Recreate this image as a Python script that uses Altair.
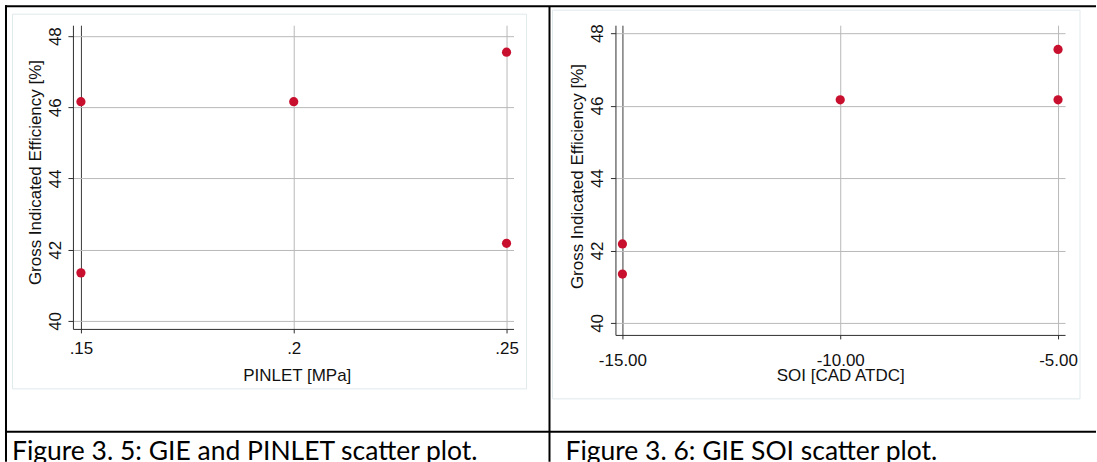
import altair as alt
import pandas as pd

# Five engine operating points: inlet pressure, start of injection and the
# gross indicated efficiency measured at each of them.
pinlet_mpa = [0.15, 0.15, 0.20, 0.25, 0.25]
gie_vs_pinlet = [46.16, 41.35, 46.16, 47.55, 42.18]
soi_cad_atdc = [-15.0, -15.0, -10.0, -5.0, -5.0]
gie_vs_soi = [42.18, 41.35, 46.16, 47.55, 46.16]

pinlet_ticks = [0.15, 0.2, 0.25]
pinlet_tick_labels = [".15", ".2", ".25"]
soi_ticks = [-15.0, -10.0, -5.0]
gie_ticks = [40, 42, 44, 46, 48]

y_title = "Gross Indicated Efficiency [%]"
pinlet_title = "PINLET [MPa]"
soi_title = "SOI [CAD ATDC]"
captions = ["Figure 3. 5: GIE and PINLET scatter plot.",
            "Figure 3. 6: GIE SOI scatter plot."]

FONT = "Liberation Sans"
AXIS_FONT_SIZE = 17
CAPTION_FONT = "Lato"
CAPTION_SIZE = 26.5
INK = "#111111"
AXIS_LINE = "#2e2e2e"
GRID = "#b9b9b9"
FIRST_GRID = "#3a3a3a"
DOT = "#c8102e"
FRAME = "#e0e9eb"

# Page layout (pixels)
PAGE_W, PAGE_H = 1097, 462
LEFT_ORIGIN = (73, 25)
LEFT_W, LEFT_H = 441, 304
GAP = 102
RIGHT_ORIGIN = (LEFT_ORIGIN[0] + LEFT_W + GAP, 25)
RIGHT_W, RIGHT_H = 450, 310

one_row = pd.DataFrame({"k": [0]})


def page_rule(origin, x1, y1, x2, y2, color="black", width=2):
    ox, oy = origin
    return alt.Chart(one_row).mark_rule(color=color, strokeWidth=width).encode(
        x=alt.value(x1 - ox), x2=alt.value(x2 - ox),
        y=alt.value(y1 - oy), y2=alt.value(y2 - oy))


def page_box(origin, x1, y1, x2, y2, color, opacity=1.0, width=1):
    ox, oy = origin
    return alt.Chart(one_row).mark_rect(
        fill="white", fillOpacity=0, stroke=color, strokeWidth=width,
        strokeOpacity=opacity).encode(
        x=alt.value(x1 - ox), x2=alt.value(x2 - ox),
        y=alt.value(y1 - oy), y2=alt.value(y2 - oy))


def page_text(origin, x, y, text, size):
    ox, oy = origin
    return alt.Chart(one_row).mark_text(
        text=text, font=CAPTION_FONT, fontSize=size, color="black",
        align="left", baseline="alphabetic").encode(
        x=alt.value(x - ox), y=alt.value(y - oy))


def y_axis(title_x, title_y, pad):
    return alt.Axis(
        values=gie_ticks, title=y_title, grid=True, gridColor=GRID, gridWidth=1,
        domainColor=AXIS_LINE, tickColor=AXIS_LINE, tickSize=5,
        labelAngle=270, labelAlign="center", labelBaseline="alphabetic",
        labelPadding=pad, labelFont=FONT, labelFontSize=AXIS_FONT_SIZE,
        labelColor=INK, labelFlush=False, labelOverlap=False,
        titleFont=FONT, titleFontSize=AXIS_FONT_SIZE, titleFontWeight="normal",
        titleColor=INK, titleAngle=270, titleAlign="center",
        titleBaseline="alphabetic", titleX=title_x, titleY=title_y)


def x_axis(values, title, first, pad, title_x, title_y, label_expr):
    return alt.Axis(
        values=values, title=title, grid=True,
        gridColor={"condition": {"test": f"datum.value === {first}",
                                 "value": FIRST_GRID},
                   "value": GRID},
        gridWidth=1, domainColor=AXIS_LINE, tickColor=AXIS_LINE, tickSize=4,
        labelAngle=0, labelPadding=pad, labelFont=FONT,
        labelFontSize=AXIS_FONT_SIZE, labelColor=INK, labelFlush=False,
        labelOverlap=False, labelExpr=label_expr,
        titleFont=FONT, titleFontSize=AXIS_FONT_SIZE, titleFontWeight="normal",
        titleColor=INK, titleBaseline="top", titleAlign="center",
        titleX=title_x, titleY=title_y)


# Tick text for the inlet pressure axis (".15", ".2", ".25")
pinlet_label_expr = "''"
for v, lab in reversed(list(zip(pinlet_ticks, pinlet_tick_labels))):
    pinlet_label_expr = f"datum.value === {v} ? '{lab}' : ({pinlet_label_expr})"

# Start of injection ticks with two decimals and a plain hyphen as minus sign
soi_label_expr = "replace(format(datum.value, '.2f'), '\u2212', '-')"

left_df = pd.DataFrame({"PINLET": pinlet_mpa, "GIE": gie_vs_pinlet})
right_df = pd.DataFrame({"SOI": soi_cad_atdc, "GIE": gie_vs_soi})

left_points = alt.Chart(left_df).mark_circle(size=85, color=DOT, opacity=1).encode(
    x=alt.X("PINLET:Q",
            scale=alt.Scale(domain=[0.148122, 0.251643], nice=False, zero=False),
            axis=x_axis(pinlet_ticks, pinlet_title, pinlet_ticks[0], 8, 224, 39,
                        pinlet_label_expr)),
    y=alt.Y("GIE:Q",
            scale=alt.Scale(domain=[39.7754, 48.3088], nice=False, zero=False),
            axis=y_axis(-32, 147, 7.5)),
)

right_points = alt.Chart(right_df).mark_circle(size=85, color=DOT, opacity=1).encode(
    x=alt.X("SOI:Q",
            scale=alt.Scale(domain=[-15.1606, -4.8395], nice=False, zero=False),
            axis=x_axis(soi_ticks, soi_title, soi_ticks[0], 14, RIGHT_W / 2, 33,
                        soi_label_expr)),
    y=alt.Y("GIE:Q",
            scale=alt.Scale(domain=[39.669, 48.2207], nice=False, zero=False),
            axis=y_axis(-33, 151, 8)),
)

L = LEFT_ORIGIN
R = RIGHT_ORIGIN

left_panel = alt.layer(
    # invisible sheet spanning the whole page
    page_box(L, 0, 0, PAGE_W, PAGE_H, "white", opacity=0),
    # light graph frame
    page_box(L, 12.5, 14, 527, 389, FRAME),
    # table rules
    page_rule(L, 5, 6, PAGE_W, 6),
    page_rule(L, 6, 5, 6, PAGE_H),
    page_rule(L, 550, 6, 550, PAGE_H),
    page_rule(L, 5, 432, PAGE_W, 432),
    # captions
    page_text(L, 12, 460, captions[0], CAPTION_SIZE),
    page_text(L, 566, 460, captions[1], CAPTION_SIZE),
    left_points,
).properties(width=LEFT_W, height=LEFT_H)

right_panel = alt.layer(
    page_box(R, 553, 10, 1081, 399, FRAME),
    right_points,
).properties(width=RIGHT_W, height=RIGHT_H)

chart = alt.hconcat(left_panel, right_panel, spacing=GAP, bounds="flush").configure_view(
    strokeWidth=0
).properties(padding=0, background="white")

chart.save("out.html", embed_options={"renderer": "svg", "actions": False})
